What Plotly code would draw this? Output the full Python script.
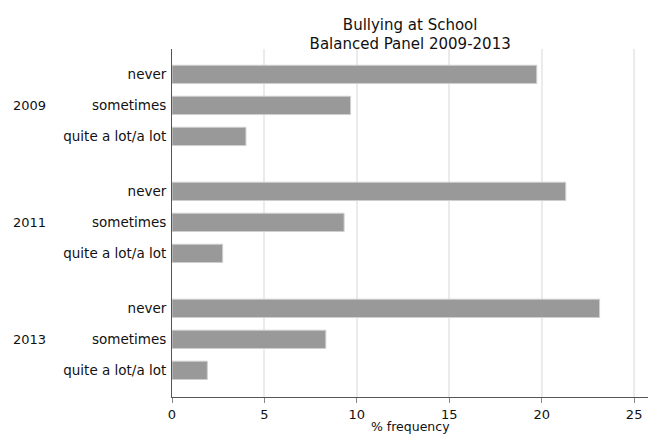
import plotly.graph_objects as go

years = ["2009", "2011", "2013"]
categories = ["never", "sometimes", "quite a lot/a lot"]
values = {
    "2009": [19.73, 9.66, 4.0],
    "2011": [21.3, 9.31, 2.74],
    "2013": [23.13, 8.32, 1.91],
}
x_ticks = [0, 5, 10, 15, 20, 25]

group_step = 3.774  # layout spacing between year groups (in bar slots)

ys, xs, labels = [], [], []
for gi, yr in enumerate(years):
    for ci, cat in enumerate(categories):
        ys.append(gi * group_step + ci)
        xs.append(values[yr][ci])
        labels.append(cat)

fig = go.Figure()
fig.add_trace(go.Bar(
    x=xs, y=ys, orientation="h", width=0.59,
    marker=dict(color="#999999", line=dict(color="#cfcfcf", width=1)),
    showlegend=False, hoverinfo="x",
))

font = "DejaVu Sans, sans-serif"
fig.update_layout(
    width=649, height=435,
    margin=dict(l=172, r=1, t=49, b=38),
    paper_bgcolor="white", plot_bgcolor="white",
    font=dict(family=font, size=13.5, color="#111111"),
    title=dict(text="Bullying at School<br>Balanced Panel 2009-2013",
               x=0.632, xanchor="center", y=0.9316, yanchor="middle",
               font=dict(size=15, family=font, color="#111111")),
    xaxis=dict(range=[0, 25.75], tickvals=x_ticks, showgrid=True,
               gridcolor="#ebebeb", gridwidth=1.5, zeroline=False,
               showline=True, linecolor="#555555", linewidth=1,
               ticks="outside", ticklen=5, tickcolor="#888888",
               tickfont=dict(size=13), automargin=False),
    yaxis=dict(range=[2 * group_step + 2 + 0.86, -0.82], tickvals=ys, ticktext=labels,
               showgrid=False, zeroline=False, showline=True, automargin=False,
               linecolor="#555555", linewidth=1, ticks="", ticklabelstandoff=2,
               tickfont=dict(size=13.5)),
)

fig.add_annotation(text="% frequency", xref="paper", yref="paper", x=0.5, y=-0.0862,
                   xanchor="center", yanchor="middle", showarrow=False,
                   font=dict(size=12.5))

for gi, yr in enumerate(years):
    fig.add_annotation(text=yr, xref="paper", yref="y", x=-0.3004, y=gi * group_step + 1,
                       xanchor="center", showarrow=False, font=dict(size=13))

fig.write_html("out.html", config={"displayModeBar": False},
               post_script="document.body.style.margin='0';")
